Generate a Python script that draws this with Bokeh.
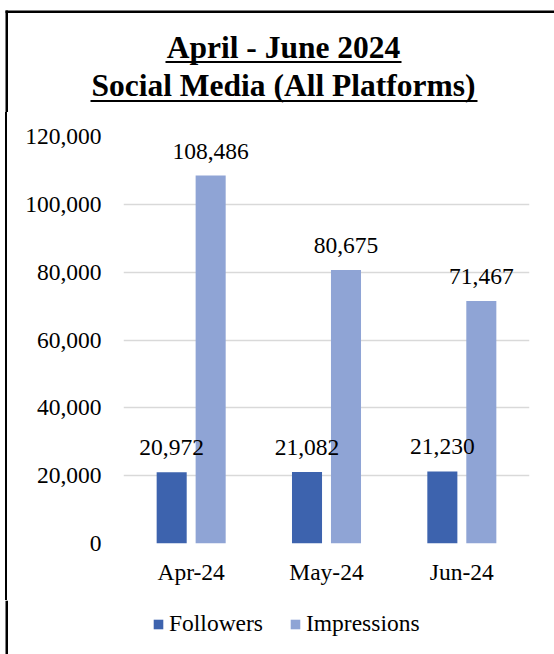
from bokeh.plotting import figure
from bokeh.layouts import column, row
from bokeh.models import (ColumnDataSource, FactorRange, FixedTicker, NumeralTickFormatter,
                          LabelSet, Legend, LegendItem, Range1d, Div)
from bokeh.core.properties import value
from bokeh.transform import dodge
from bokeh.embed import file_html
from bokeh.resources import INLINE

# ---- data ----
months = ["Apr-24", "May-24", "Jun-24"]
followers = [20972, 21082, 21230]
impressions = [108486, 80675, 71467]
y_ticks = [0, 20000, 40000, 60000, 80000, 100000, 120000]
title_lines = ["April - June 2024", "Social Media (All Platforms)"]
series_names = ["Followers", "Impressions"]

FONT = "Liberation Serif"
FS = "23.5px"
C_FOL = "#3D63AE"
C_IMP = "#8FA4D5"
PW = 554
TH, MH, LH = 112, 488, 54
BORDER_CSS = "linear-gradient(to right, #fff 0px, #fff 5px, #000 5px, #000 7.5px, #fff 7.5px)"


def blank(width, height):
    f = figure(width=width, height=height, x_range=Range1d(0, width), y_range=Range1d(height, 0),
               output_backend="svg", toolbar_location=None,
               min_border=0, min_border_left=0, min_border_right=0,
               min_border_top=0, min_border_bottom=0)
    f.axis.visible = False
    f.grid.visible = False
    f.outline_line_color = None
    f.background_fill_color = None
    f.border_fill_color = None
    return f


# ---- title strip ----
t = blank(PW, TH)
t.quad(left=[5], right=[PW], top=[10], bottom=[12.5], fill_color="black", line_color=None)
t.quad(left=[5], right=[7.5], top=[10], bottom=[TH], fill_color="black", line_color=None)
t.text(x=[283, 283], y=[46.5, 84.5], text=title_lines, text_align="center",
       text_baseline="middle", text_font=value(FONT), text_font_size="31.5px",
       text_font_style="bold", text_color="black")
t.quad(left=[165, 90], right=[401, 477], top=[60.5, 99.5], bottom=[62.5, 101.5],
       fill_color="black", line_color=None)

# ---- left border strip beside chart ----
b = Div(text="", width=8, height=MH, margin=0, styles={"background": BORDER_CSS})

# ---- main chart ----
src = ColumnDataSource(dict(
    months=months,
    followers=followers,
    impressions=impressions,
    fol_lbl=[f"{v:,}" for v in followers],
    imp_lbl=[f"{v:,}" for v in impressions],
))

p = figure(width=PW - 8, height=MH, x_range=FactorRange(*months), y_range=(0, 120000),
           output_backend="svg", toolbar_location=None)
p.min_border_left = 115
p.min_border_right = 25
p.min_border_top = 24
p.min_border_bottom = 57
p.outline_line_color = None
p.background_fill_color = "white"
p.border_fill_color = "white"

OFF = 0.144
BW = 0.222
p.vbar(x=dodge("months", -OFF, range=p.x_range), top="followers", width=BW,
       source=src, fill_color=C_FOL, line_color=None)
p.vbar(x=dodge("months", OFF, range=p.x_range), top="impressions", width=BW,
       source=src, fill_color=C_IMP, line_color=None)

for col, lbl, off in (("followers", "fol_lbl", -OFF), ("impressions", "imp_lbl", OFF)):
    p.add_layout(LabelSet(x=dodge("months", off, range=p.x_range), y=col, text=lbl, source=src,
                          text_align="center", text_baseline="alphabetic", y_offset=17,
                          text_font=FONT, text_font_size=FS, text_color="black"))

p.yaxis.ticker = FixedTicker(ticks=y_ticks)
p.yaxis.formatter = NumeralTickFormatter(format="0,0")
for ax in (p.xaxis[0], p.yaxis[0]):
    ax.axis_line_color = None
    ax.major_tick_line_color = None
    ax.minor_tick_line_color = None
    ax.major_tick_out = 0
    ax.major_tick_in = 0
    ax.major_label_text_font = FONT
    ax.major_label_text_font_size = FS
    ax.major_label_text_color = "black"
p.yaxis.major_label_standoff = 22
p.xaxis.major_label_standoff = 15

p.xgrid.grid_line_color = None
p.ygrid.grid_line_color = "#D9D9D9"
p.ygrid.grid_line_width = 1.5

# ---- legend strip ----
lg = blank(PW, LH)
lg.quad(left=[5], right=[7.5], top=[0], bottom=[LH], fill_color="black", line_color=None)
# zero-size stand-ins that only carry the legend swatch styles
d1 = lg.vbar(x=[0], top=[0], bottom=[0], width=0, fill_color=C_FOL, line_color=None)
d2 = lg.vbar(x=[0], top=[0], bottom=[0], width=0, fill_color=C_IMP, line_color=None)
legend = Legend(items=[LegendItem(label=series_names[0], renderers=[d1]),
                       LegendItem(label=series_names[1], renderers=[d2])],
                orientation="horizontal", location=(152, 17),
                padding=0, margin=0, spacing=26, label_standoff=5,
                glyph_width=12, glyph_height=12,
                label_text_font=FONT, label_text_font_size=FS, label_text_color="black",
                border_line_color=None, background_fill_alpha=0)
lg.add_layout(legend)

layout = column(t, row(b, p), lg)
open("out.html", "w").write(file_html(layout, INLINE))
